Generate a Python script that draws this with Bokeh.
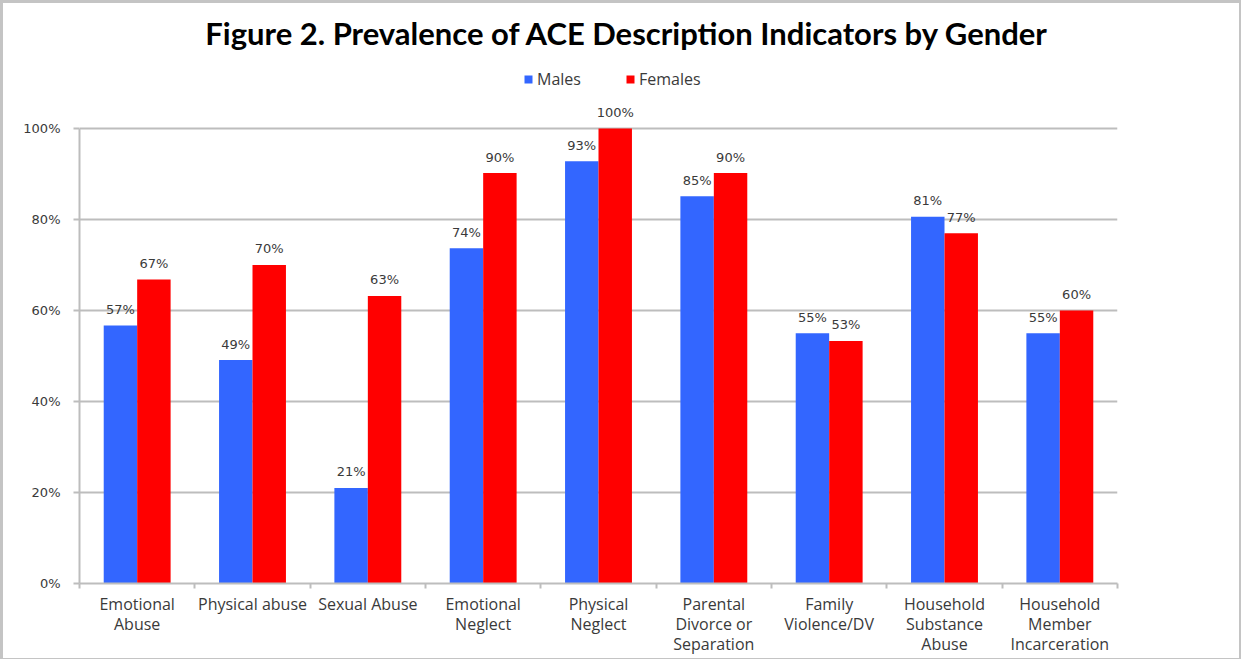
from bokeh.plotting import figure
from bokeh.models import (ColumnDataSource, FixedTicker, LabelSet, Label, Legend,
                          LegendItem, PrintfTickFormatter, Range1d)
from bokeh.transform import dodge
from bokeh.embed import file_html
from bokeh.resources import INLINE
from bokeh.core.properties import value

categories = ["Emotional\nAbuse", "Physical abuse", "Sexual Abuse", "Emotional\nNeglect",
              "Physical\nNeglect", "Parental\nDivorce or\nSeparation", "Family\nViolence/DV",
              "Household\nSubstance\nAbuse", "Household\nMember\nIncarceration"]
males = [56.7, 49.1, 21.0, 73.7, 92.8, 85.1, 55.0, 80.6, 55.0]
females = [66.8, 70.0, 63.2, 90.2, 100.0, 90.2, 53.3, 77.0, 60.0]
y_ticks = [0, 20, 40, 60, 80, 100]
series_names = ["Males", "Females"]
title_text = "Figure 2. Prevalence of ACE Description Indicators by Gender"

BLUE = "#3366FF"
RED = "#FF0000"
GRID = "#BDBDBD"
TXT = "#3a3a3a"

n = len(categories)
centers = [i + 0.5 for i in range(n)]
src = ColumnDataSource(dict(
    x=centers, males=males, females=females,
    m_lab=[f"{round(v)}%" for v in males],
    f_lab=[f"{round(v)}%" for v in females],
))

# canvas 1241 x 659, plus a 3/2/1/3 px border outside it
p = figure(width=1241, height=659, output_backend="svg", toolbar_location=None,
           x_range=Range1d(0, n), y_range=Range1d(0, 127.47),
           min_border_left=76, min_border_right=127, min_border_top=0, min_border_bottom=79)
p.outline_line_color = None
p.background_fill_color = "white"
p.border_fill_color = "white"

bw = 0.29
rm = p.vbar(x=dodge("x", -bw / 2), top="males", width=bw, source=src,
            fill_color=BLUE, line_color=None)
rf = p.vbar(x=dodge("x", bw / 2), top="females", width=bw, source=src,
            fill_color=RED, line_color=None)

for col, lab, off in (("males", "m_lab", -bw / 2), ("females", "f_lab", bw / 2)):
    p.add_layout(LabelSet(x=dodge("x", off), y=col, text=lab, source=src,
                          text_align="center", text_baseline="middle", y_offset=16,
                          text_font=value("DejaVu Sans"), text_font_size="13px",
                          text_color=TXT))

# grid
p.xgrid.grid_line_color = None
p.ygrid.grid_line_color = GRID
p.ygrid.grid_line_width = 2
p.ygrid.ticker = FixedTicker(ticks=y_ticks)

# y axis
p.yaxis.ticker = FixedTicker(ticks=y_ticks)
p.yaxis.bounds = (0, 100)
p.yaxis.formatter = PrintfTickFormatter(format="%d%%")
p.yaxis.axis_line_color = GRID
p.yaxis.axis_line_width = 2
p.yaxis.major_tick_line_color = GRID
p.yaxis.major_tick_line_width = 2
p.yaxis.major_tick_out = 6
p.yaxis.major_tick_in = 0
p.yaxis.minor_tick_line_color = None
p.yaxis.major_label_text_font = "DejaVu Sans"
p.yaxis.major_label_text_font_size = "13px"
p.yaxis.major_label_text_color = TXT
p.yaxis.major_label_standoff = 13

# x axis
p.xaxis.ticker = FixedTicker(ticks=centers, minor_ticks=list(range(n + 1)))
p.xaxis.major_label_overrides = {c: lab for c, lab in zip(centers, categories)}
p.xaxis.axis_line_color = GRID
p.xaxis.axis_line_width = 2
p.xaxis.major_tick_line_color = None
p.xaxis.major_tick_out = 0
p.xaxis.major_tick_in = 0
p.xaxis.minor_tick_line_color = GRID
p.xaxis.minor_tick_line_width = 2
p.xaxis.minor_tick_out = 5
p.xaxis.minor_tick_in = 0
p.xaxis.major_label_text_font = "Open Sans"
p.xaxis.major_label_text_font_size = "16px"
p.xaxis.major_label_text_line_height = 0.92
p.xaxis.major_label_text_color = TXT
p.xaxis.major_label_standoff = 4
p.xaxis.major_label_text_align = "center"

# title
p.add_layout(Label(x=4.75, y=120.9, text=title_text, text_align="center",
                   text_baseline="middle", text_font="Lato",
                   text_font_style="bold", text_font_size="31px", text_color="black"))

# legend
legend = Legend(items=[LegendItem(label=series_names[0], renderers=[rm]),
                       LegendItem(label=series_names[1], renderers=[rf])],
                location=(444, 493), orientation="horizontal",
                glyph_width=10, glyph_height=10, label_standoff=4, spacing=44,
                padding=0, margin=0, border_line_color=None, background_fill_alpha=0,
                label_text_font="Open Sans", label_text_font_size="16px",
                label_text_color=TXT, label_height=14)
p.add_layout(legend)

p.styles = {"border-style": "solid", "border-color": "#c4c4c4",
            "border-width": "3px 2px 1px 3px"}

open("out.html", "w").write(file_html(p, INLINE))
